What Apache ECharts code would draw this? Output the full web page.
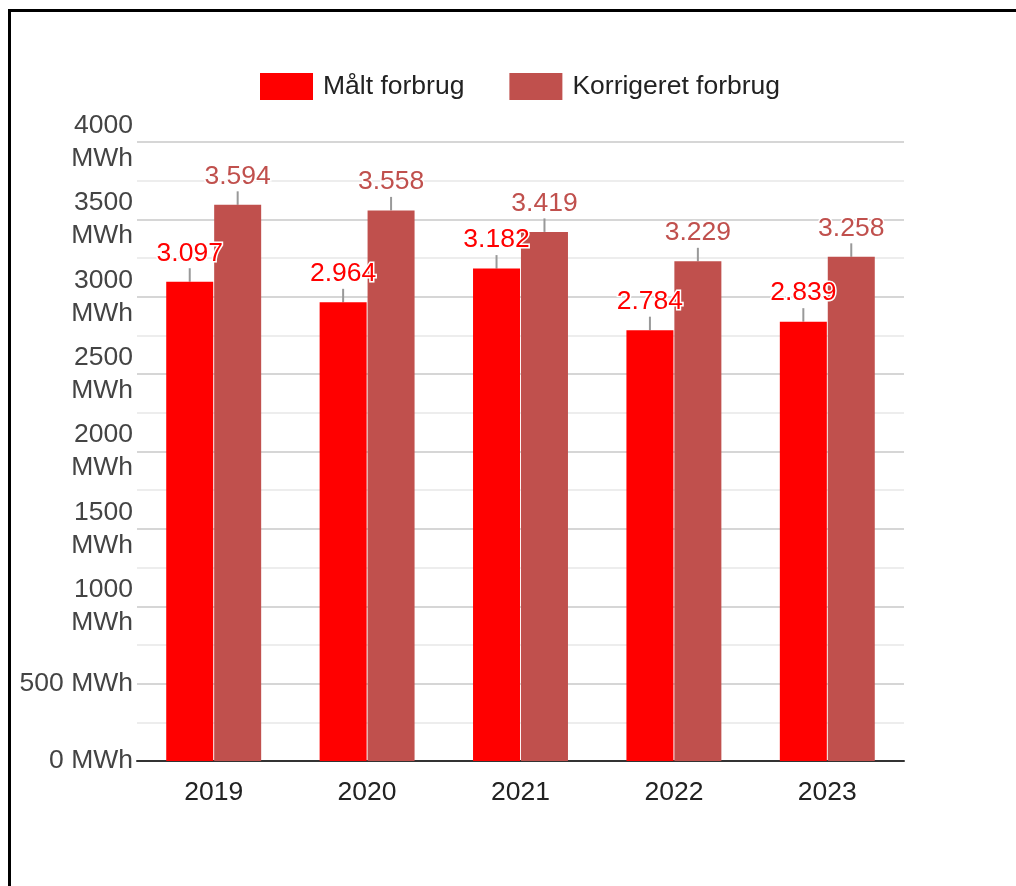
<!DOCTYPE html>
<html>
<head>
<meta charset="utf-8">
<script src="https://cdn.jsdelivr.net/npm/echarts@6/dist/echarts.min.js"></script>
<style>
html,body{margin:0;padding:0;background:#fff;width:1016px;height:886px;overflow:hidden;}
#frame{position:absolute;left:8px;top:9px;width:1100px;height:1000px;border:3px solid #000;box-sizing:border-box;}
#chart{position:absolute;left:0;top:0;width:1016px;height:886px;}
</style>
</head>
<body>
<div id="frame"></div>
<div id="chart"></div>
<script>
const categories = ['2019', '2020', '2021', '2022', '2023'];
const maaltForbrug = [3097, 2964, 3182, 2784, 2839];
const korrigeretForbrug = [3594, 3558, 3419, 3229, 3258];
const seriesNames = ['Målt forbrug', 'Korrigeret forbrug'];
const unit = 'MWh';

function fmtDa(v) {
  const s = String(Math.round(v));
  return s.replace(/\B(?=(\d{3})+(?!\d))/g, '.');
}

const chart = echarts.init(document.getElementById('chart'), null, {renderer: 'canvas'});
const fontFamily = '"Liberation Sans", Arial, sans-serif';

function barSeries(name, data, color) {
  return {
    name: name,
    type: 'bar',
    data: data,
    barWidth: 47,
    barGap: '2%',
    itemStyle: {color: color},
    label: {
      show: true,
      position: 'top',
      distance: 0,
      formatter: p => fmtDa(p.value),
      color: color,
      fontSize: 26.5,
      fontFamily: fontFamily,
      textBorderColor: '#fff',
      textBorderWidth: 3
    },
    labelLayout: {dy: -15},
    labelLine: {show: true, lineStyle: {color: '#999', width: 2}},
    emphasis: {disabled: true},
    animation: false
  };
}

chart.setOption({
  animation: false,
  textStyle: {fontFamily: fontFamily},
  legend: {
    top: 68,
    left: 255,
    itemWidth: 53,
    itemHeight: 27,
    itemGap: 45,
    icon: 'rect',
    textStyle: {fontSize: 26.5, color: '#222', fontFamily: fontFamily, padding: [0, 0, 0, 5]},
    data: seriesNames
  },
  grid: {left: 137, right: 112, top: 142, bottom: 125, containLabel: false},
  xAxis: {
    type: 'category',
    data: categories,
    axisLine: {lineStyle: {color: '#333', width: 2}},
    axisTick: {show: false},
    axisLabel: {fontSize: 26.5, color: '#222', margin: 18, fontFamily: fontFamily}
  },
  yAxis: {
    type: 'value',
    min: 0,
    max: 4000,
    interval: 500,
    axisLine: {show: false},
    axisTick: {show: false},
    axisLabel: {
      fontSize: 26.5,
      color: '#444',
      margin: 4,
      lineHeight: 33,
      fontFamily: fontFamily,
      formatter: v => v >= 1000 ? v + '\n' + unit : v + ' ' + unit
    },
    splitLine: {lineStyle: {color: '#c8c8c8', width: 1.5}},
    minorTick: {show: false, splitNumber: 2},
    minorSplitLine: {show: true, lineStyle: {color: '#e8e8e8', width: 1.5}}
  },
  series: [
    barSeries(seriesNames[0], maaltForbrug, '#ff0000'),
    barSeries(seriesNames[1], korrigeretForbrug, '#c0504d')
  ]
});
</script>
</body>
</html>
